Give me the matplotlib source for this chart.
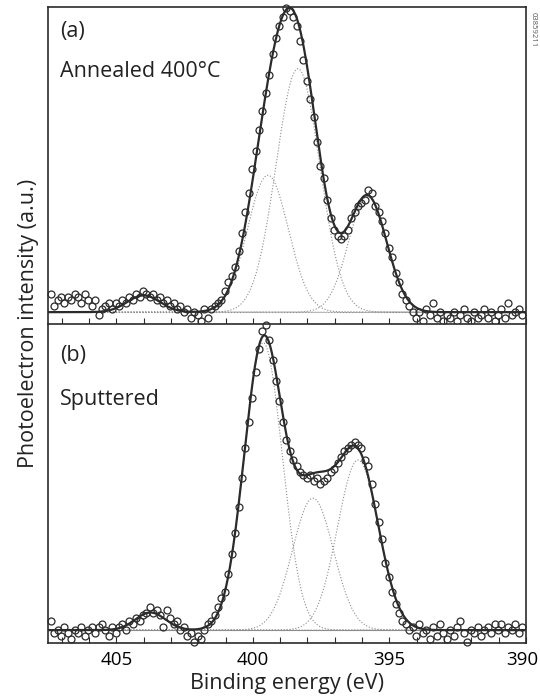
import numpy as np
import matplotlib
matplotlib.use("Agg")
import matplotlib.pyplot as plt
import matplotlib.transforms as mtransforms

plt.rcParams['font.family'] = ['Open Sans', 'DejaVu Sans']

# binding energy grid of the measured spectra (eV)
energy = np.arange(407.4, 390.1, -0.125)

# (a) annealed 400 C, normalised intensity
annealed = [
    0.06, 0.02, 0.04, 0.05, 0.03, 0.05, 0.04, 0.06, 0.05, 0.03,
    0.06, 0.04, 0.02, 0.04, -0.01, 0.01, 0.02, 0.03, 0.01, 0.03,
    0.02, 0.04, 0.03, 0.05, 0.04, 0.06, 0.05, 0.07, 0.06, 0.05,
    0.06, 0.04, 0.05, 0.03, 0.04, 0.02, 0.03, 0.01, 0.02, 0.00,
    0.01, -0.02, 0.00, -0.01, -0.03, 0.01, -0.02, 0.01, 0.02, 0.03,
    0.04, 0.07, 0.10, 0.12, 0.15, 0.20, 0.26, 0.33, 0.39, 0.47,
    0.53, 0.60, 0.66, 0.72, 0.78, 0.85, 0.90, 0.94, 0.97, 1.00,
    0.99, 0.97, 0.94, 0.89, 0.83, 0.76, 0.70, 0.64, 0.56, 0.48,
    0.44, 0.37, 0.31, 0.27, 0.25, 0.24, 0.25, 0.27, 0.31, 0.33,
    0.35, 0.36, 0.37, 0.40, 0.39, 0.35, 0.33, 0.30, 0.26, 0.21,
    0.18, 0.13, 0.10, 0.06, 0.04, 0.02, 0.00, -0.02, 0.00, -0.03,
    0.01, -0.01, 0.03, -0.02, 0.00, -0.03, -0.01, -0.02, 0.00, -0.03,
    -0.01, 0.01, -0.02, -0.03, 0.00, -0.02, -0.01, 0.01, -0.02, 0.00,
    -0.03, -0.01, 0.01, -0.02, 0.03, -0.01, 0.00, 0.01, -0.01,
]

# (b) sputtered, normalised intensity
sputtered = [
    0.03, -0.01, 0.00, -0.02, 0.01, -0.01, -0.03, 0.00, -0.01, 0.01,
    -0.02, 0.00, 0.01, -0.01, 0.01, 0.02, 0.00, -0.02, 0.01, -0.01,
    0.01, 0.02, 0.00, 0.03, 0.02, 0.04, 0.03, 0.05, 0.06, 0.08,
    0.06, 0.07, 0.05, 0.01, 0.07, 0.04, 0.02, 0.03, 0.00, 0.01,
    -0.02, -0.01, -0.04, -0.02, -0.03, 0.00, 0.02, 0.03, 0.05, 0.08,
    0.11, 0.13, 0.19, 0.26, 0.33, 0.42, 0.52, 0.62, 0.71, 0.79,
    0.88, 0.96, 1.02, 1.04, 0.99, 0.92, 0.85, 0.78, 0.71, 0.65,
    0.61, 0.58, 0.56, 0.54, 0.53, 0.52, 0.53, 0.51, 0.52, 0.50,
    0.51, 0.52, 0.54, 0.55, 0.57, 0.59, 0.61, 0.62, 0.63, 0.64,
    0.63, 0.62, 0.58, 0.56, 0.50, 0.43, 0.37, 0.31, 0.23, 0.18,
    0.13, 0.09, 0.06, 0.03, 0.02, 0.00, 0.01, -0.02, 0.02, -0.01,
    0.00, -0.03, 0.01, -0.02, 0.02, -0.01, -0.03, 0.00, -0.02, 0.01,
    0.03, -0.01, -0.04, 0.00, -0.01, 0.01, -0.02, 0.00, 0.01, -0.01,
    0.02, 0.00, 0.02, -0.01, 0.01, 0.00, 0.02, -0.01, 0.01,
]

# fitted components: centre (eV), height, sigma (eV)
fit_a_center = [404.0, 399.45, 398.35, 395.8]
fit_a_height = [0.055, 0.45, 0.80, 0.38]
fit_a_sigma = [0.6, 0.75, 0.80, 0.70]

fit_b_center = [403.75, 399.62, 397.8, 396.15]
fit_b_height = [0.06, 0.98, 0.45, 0.58]
fit_b_sigma = [0.55, 0.70, 0.75, 0.75]

xgrid = np.linspace(407.5, 390.0, 800)


def gauss(x, c, h, s):
    return h * np.exp(-(x - c) ** 2 / (2 * s ** 2))


fig = plt.figure(figsize=(5.40, 6.98), dpi=100)
ax_a = fig.add_axes([0.0889, 0.5358, 0.8852, 0.4542])
ax_b = fig.add_axes([0.0889, 0.0788, 0.8852, 0.4570])

dark = '#2b2b2b'
grey = '#8c8c8c'

panels = [
    (ax_a, annealed, fit_a_center, fit_a_height, fit_a_sigma, (-0.039, 1.003), ':'),
    (ax_b, sputtered, fit_b_center, fit_b_height, fit_b_sigma, (-0.044, 1.044), '-'),
]

for ax, data, cen, hei, sig, ylim, base_ls in panels:
    ax.axhline(0, color=grey, lw=0.8, ls=base_ls, zorder=1)
    total = np.zeros_like(xgrid)
    for c, h, s in zip(cen, hei, sig):
        comp = gauss(xgrid, c, h, s)
        total += comp
        ax.plot(xgrid, comp, color=grey, lw=0.8, ls=':', zorder=2)
    ax.plot(xgrid, total, color=dark, lw=1.6, zorder=3)
    ax.plot(energy, data, ls='none', marker='o', ms=5, mfc='none',
            mec=dark, mew=0.9, zorder=4, clip_on=False)
    ax.set_xlim(407.5, 390.0)
    ax.set_ylim(*ylim)
    ax.set_yticks([])
    ax.set_xticks([405, 400, 395, 390])
    ax.set_xticks(np.arange(407, 390, -1), minor=True)
    ax.tick_params(axis='x', which='both', direction='in', length=4,
                   width=0.8, color=dark, labelsize=13.5, pad=6)
    for sp in ax.spines.values():
        sp.set_color(dark)
        sp.set_linewidth(1.2)

ax_a.tick_params(axis='x', labelbottom=False)
ax_a.spines['bottom'].set_visible(False)

# nudge the last tick label so it stays inside the figure
fig.canvas.draw()
last = ax_b.get_xticklabels()[-1]
last.set_transform(last.get_transform() +
                   mtransforms.ScaledTranslation(-4 / 100, 0, fig.dpi_scale_trans))

ax_a.text(0.025, 0.955, '(a)', transform=ax_a.transAxes, fontsize=15.5,
          va='top', ha='left', color='#222222')
ax_a.text(0.025, 0.83, 'Annealed 400°C', transform=ax_a.transAxes,
          fontsize=15.5, va='top', ha='left', color='#222222')
ax_b.text(0.025, 0.935, '(b)', transform=ax_b.transAxes, fontsize=15.5,
          va='top', ha='left', color='#222222')
ax_b.text(0.025, 0.795, 'Sputtered', transform=ax_b.transAxes,
          fontsize=15.5, va='top', ha='left', color='#222222')

fig.text(0.052, 0.537, 'Photoelectron intensity (a.u.)', rotation=90,
         fontsize=15.5, va='center', ha='center', color='#222222')
fig.text(0.532, 0.021, 'Binding energy (eV)', fontsize=15.5,
         va='center', ha='center', color='#222222')
fig.text(0.987, 0.958, '03859211', rotation=-90, fontsize=5.5,
         va='center', ha='center', color='#555555')

fig.savefig('out.png', dpi=100)
